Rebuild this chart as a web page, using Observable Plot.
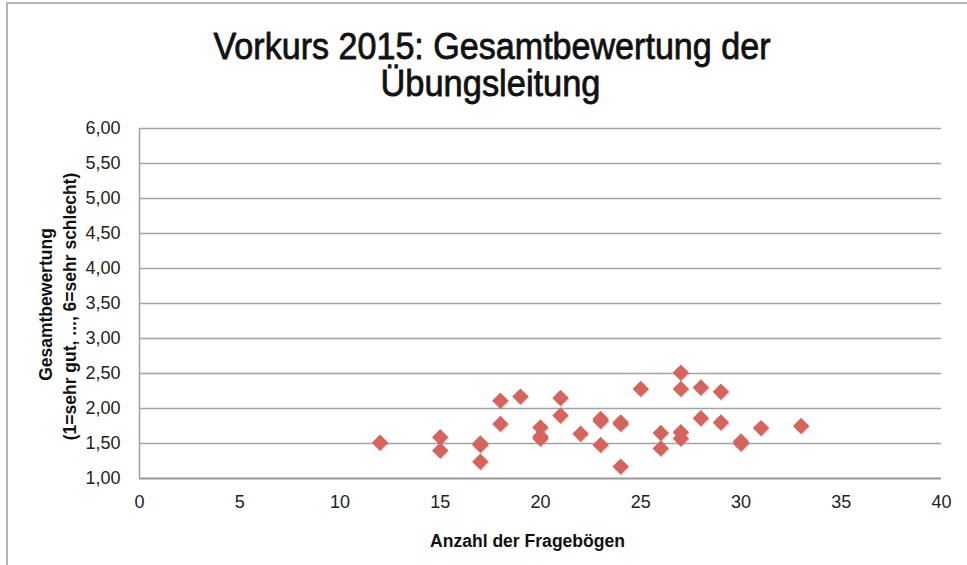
<!DOCTYPE html>
<html>
<head>
<meta charset="utf-8">
<script src="https://cdn.jsdelivr.net/npm/d3@7"></script>
<script src="https://cdn.jsdelivr.net/npm/@observablehq/plot@0.6"></script>
<style>
  html, body { margin: 0; padding: 0; background: #fff; }
  #wrap { position: relative; width: 967px; height: 565px; overflow: hidden; }
  #frame { position: absolute; left: 6px; top: 2px; width: 1000px; height: 600px;
           border-left: 2px solid #b5b5b5; border-top: 2px solid #b5b5b5; pointer-events: none; }
</style>
</head>
<body>
<div id="wrap"><div id="frame"></div></div>
<script>
// Data
const anzahl = [12, 15, 15, 17, 17, 17, 18, 18, 19, 20, 20, 20, 21, 21, 22, 23, 23, 23, 24, 24, 24, 25, 26, 26, 27, 27, 27, 27, 28, 28, 29, 29, 30, 30, 31, 33];
const bewertung = [1.51, 1.59, 1.40, 1.50, 1.48, 1.24, 2.11, 1.78, 2.17, 1.73, 1.60, 1.57, 2.15, 1.90, 1.64, 1.85, 1.82, 1.48, 1.80, 1.78, 1.17, 2.28, 1.65, 1.43, 2.51, 2.28, 1.66, 1.57, 2.30, 1.86, 2.24, 1.80, 1.53, 1.50, 1.72, 1.75];
const xTicks = [0, 5, 10, 15, 20, 25, 30, 35, 40];
const yTicks = [1.0, 1.5, 2.0, 2.5, 3.0, 3.5, 4.0, 4.5, 5.0, 5.5, 6.0];
const titleLines = ["Vorkurs 2015: Gesamtbewertung der", "Übungsleitung"];
const xTitle = "Anzahl der Fragebögen";
const yTitleLines = ["Gesamtbewertung", "(1=sehr gut, ..., 6=sehr schlecht)"];

const data = anzahl.map((x, i) => ({x, y: bewertung[i]}));
const sans = "'Liberation Sans', Arial, sans-serif";

const chart = Plot.plot({
  width: 967,
  height: 565,
  marginLeft: 139,
  marginRight: 26,
  marginTop: 128,
  marginBottom: 87,
  style: {fontFamily: sans, background: "transparent"},
  x: {domain: [0, 40], ticks: xTicks},
  y: {domain: [1, 6], ticks: yTicks},
  marks: [
    Plot.ruleY(yTicks.slice(1), {stroke: "#a3a3a3", strokeWidth: 1.6}),
    Plot.ruleX([0], {stroke: "#a3a3a3", strokeWidth: 1.6}),
    Plot.ruleY([1], {stroke: "#9a9a9a", strokeWidth: 2.2}),
    Plot.axisY({ticks: yTicks, tickSize: 0, tickPadding: 19, fontSize: 18, fill: "#222",
      tickFormat: d => d.toFixed(2).replace(".", ","), label: null}),
    Plot.axisX({ticks: xTicks, tickSize: 0, tickPadding: 17, fontSize: 18, fill: "#222",
      tickFormat: d => String(d), label: null}),
    Plot.dot(data, {x: "x", y: "y", symbol: "diamond2", r: 7.4, fill: "#8a8a8a", fillOpacity: 0.25, dx: 1, dy: 1.5}),
    Plot.dot(data, {x: "x", y: "y", symbol: "diamond2", r: 7.4, fill: "#d3655e"}),
    Plot.text([titleLines[0]], {frameAnchor: "top", lineAnchor: "middle", textAnchor: "middle", text: d => d, dx: -48.5, dy: -81.8, fontSize: 37, fill: "#111", stroke: "#111", strokeWidth: 0.8}),
    Plot.text([titleLines[1]], {frameAnchor: "top", lineAnchor: "middle", textAnchor: "middle", text: d => d, dx: -50, dy: -44.8, fontSize: 37, fill: "#111", stroke: "#111", strokeWidth: 0.8}),
    Plot.text([xTitle], {frameAnchor: "bottom", lineAnchor: "middle", textAnchor: "middle", text: d => d, dx: -13, dy: 63, fontSize: 17.5, fontWeight: "bold", fill: "#111"}),
    Plot.text([yTitleLines[0]], {frameAnchor: "left", lineAnchor: "middle", textAnchor: "middle", text: d => d, rotate: -90, dx: -93, dy: 1, fontSize: 17.5, fontWeight: "bold", fill: "#111"}),
    Plot.text([yTitleLines[1]], {frameAnchor: "left", lineAnchor: "middle", textAnchor: "middle", text: d => d, rotate: -90, dx: -69, dy: 3, fontSize: 17.5, fontWeight: "bold", fill: "#111"})
  ]
});
// Narrow the title lines to the widths of the reference's condensed face
const fit = new Map([[titleLines[0], 557], [titleLines[1], 220], [xTitle, 195]]);
chart.querySelectorAll("text").forEach(t => {
  const len = fit.get(t.textContent);
  if (len) {
    t.setAttribute("textLength", len);
    t.setAttribute("lengthAdjust", "spacingAndGlyphs");
  }
});
document.getElementById("wrap").prepend(chart);
</script>
</body>
</html>
